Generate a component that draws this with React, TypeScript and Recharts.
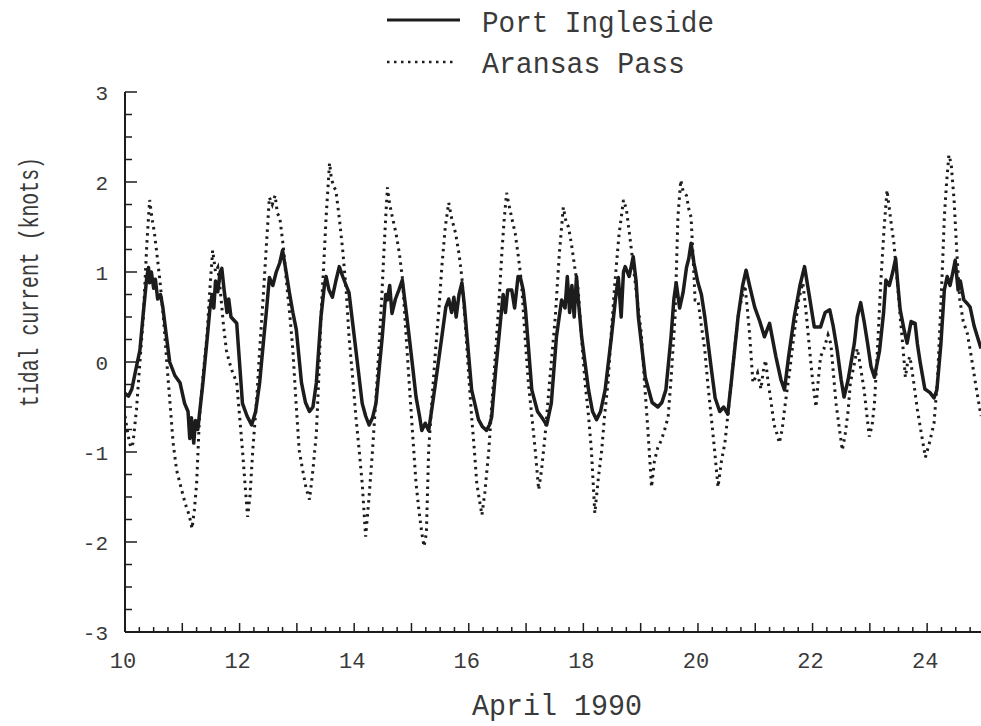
import React from "react";
import { LineChart, Line, XAxis, YAxis } from "recharts";

// [day of April 1990, tidal current in knots]
const portIngleside: [number, number][] = [
  [10.0, -0.35], [10.06, -0.38], [10.12, -0.3], [10.2, -0.05], [10.26, 0.13], [10.32, 0.55],
  [10.38, 0.94], [10.41, 1.05], [10.43, 0.88], [10.46, 1.0], [10.5, 0.82], [10.53, 0.92],
  [10.57, 0.7], [10.62, 0.75], [10.66, 0.61], [10.72, 0.3], [10.78, 0.0], [10.87, -0.15],
  [10.96, -0.23], [11.04, -0.46], [11.1, -0.55], [11.13, -0.85], [11.16, -0.62], [11.2, -0.9],
  [11.23, -0.65], [11.27, -0.75], [11.36, -0.23], [11.44, 0.3], [11.48, 0.58], [11.52, 0.75],
  [11.55, 0.6], [11.58, 0.9], [11.62, 0.78], [11.66, 1.0], [11.69, 1.04], [11.73, 0.8],
  [11.78, 0.55], [11.81, 0.7], [11.85, 0.5], [11.95, 0.43], [12.05, -0.46], [12.13, -0.6],
  [12.21, -0.7], [12.28, -0.55], [12.35, -0.23], [12.42, 0.25], [12.47, 0.58], [12.52, 0.94],
  [12.58, 0.85], [12.64, 1.0], [12.7, 1.1], [12.75, 1.24], [12.8, 1.05], [12.87, 0.77],
  [12.93, 0.55], [12.99, 0.36], [13.08, -0.23], [13.15, -0.45], [13.22, -0.55], [13.28, -0.5],
  [13.34, -0.23], [13.42, 0.5], [13.48, 0.85], [13.51, 0.95], [13.56, 0.8], [13.62, 0.72],
  [13.68, 0.9], [13.74, 1.06], [13.8, 0.95], [13.86, 0.85], [13.91, 0.77], [13.97, 0.45],
  [14.03, 0.13], [14.14, -0.46], [14.2, -0.6], [14.26, -0.7], [14.32, -0.62], [14.38, -0.46],
  [14.44, -0.05], [14.49, 0.28], [14.55, 0.75], [14.58, 0.69], [14.62, 0.85], [14.66, 0.54],
  [14.72, 0.7], [14.78, 0.8], [14.84, 0.91], [14.9, 0.6], [14.96, 0.28], [15.02, -0.05],
  [15.08, -0.39], [15.14, -0.6], [15.18, -0.76], [15.24, -0.68], [15.3, -0.76], [15.36, -0.5],
  [15.42, -0.23], [15.48, 0.05], [15.53, 0.28], [15.6, 0.61], [15.65, 0.7], [15.7, 0.55],
  [15.74, 0.72], [15.78, 0.5], [15.83, 0.75], [15.88, 0.88], [15.92, 0.65], [15.97, 0.28],
  [16.05, -0.31], [16.17, -0.64], [16.24, -0.72], [16.31, -0.76], [16.36, -0.7], [16.4, -0.61],
  [16.47, -0.09], [16.56, 0.5], [16.6, 0.75], [16.64, 0.55], [16.68, 0.8], [16.75, 0.8],
  [16.8, 0.6], [16.86, 0.95], [16.9, 0.94], [16.95, 0.8], [16.99, 0.58], [17.1, -0.31],
  [17.2, -0.55], [17.3, -0.64], [17.36, -0.7], [17.44, -0.46], [17.53, 0.28], [17.62, 0.69],
  [17.68, 0.6], [17.72, 0.95], [17.76, 0.55], [17.8, 0.85], [17.84, 0.5], [17.88, 0.95],
  [17.91, 0.7], [17.97, 0.28], [18.09, -0.31], [18.16, -0.55], [18.23, -0.64], [18.3, -0.55],
  [18.38, -0.31], [18.49, 0.28], [18.56, 0.7], [18.61, 0.94], [18.66, 0.5], [18.7, 1.0],
  [18.73, 1.06], [18.8, 0.95], [18.87, 1.17], [18.92, 0.9], [18.96, 0.5], [19.08, -0.17],
  [19.2, -0.45], [19.3, -0.5], [19.37, -0.45], [19.44, -0.31], [19.53, 0.28], [19.58, 0.7],
  [19.62, 0.88], [19.68, 0.6], [19.74, 0.77], [19.8, 1.05], [19.84, 1.15], [19.88, 1.32],
  [19.93, 1.1], [20.0, 0.88], [20.06, 0.75], [20.12, 0.5], [20.23, -0.06], [20.3, -0.4],
  [20.38, -0.55], [20.45, -0.5], [20.52, -0.58], [20.58, -0.23], [20.7, 0.5], [20.78, 0.85],
  [20.84, 1.02], [20.9, 0.85], [20.99, 0.61], [21.08, 0.45], [21.16, 0.28], [21.25, 0.43],
  [21.36, 0.06], [21.45, -0.2], [21.51, -0.31], [21.58, 0.05], [21.68, 0.5], [21.78, 0.85],
  [21.86, 1.06], [21.94, 0.75], [22.03, 0.39], [22.14, 0.39], [22.22, 0.55], [22.3, 0.58],
  [22.36, 0.4], [22.43, 0.13], [22.5, -0.2], [22.55, -0.39], [22.62, -0.2], [22.73, 0.21],
  [22.78, 0.5], [22.84, 0.66], [22.9, 0.45], [22.96, 0.21], [23.02, -0.05], [23.08, -0.17],
  [23.17, 0.13], [23.24, 0.55], [23.28, 0.91], [23.34, 0.85], [23.4, 1.0], [23.45, 1.15],
  [23.49, 0.85], [23.53, 0.58], [23.6, 0.35], [23.65, 0.21], [23.72, 0.45], [23.79, 0.43],
  [23.83, 0.2], [23.88, -0.01], [23.96, -0.3], [24.05, -0.34], [24.12, -0.4], [24.17, -0.31],
  [24.24, 0.2], [24.3, 0.8], [24.35, 0.95], [24.4, 0.85], [24.45, 1.0], [24.49, 1.13],
  [24.54, 0.8], [24.58, 0.9], [24.64, 0.69], [24.7, 0.65], [24.75, 0.61], [24.82, 0.4],
  [24.94, 0.15],
];

const aransasPass: [number, number][] = [
  [10.0, -0.6], [10.05, -0.8], [10.1, -0.95], [10.14, -0.9], [10.2, -0.53], [10.26, 0.0],
  [10.32, 0.5], [10.38, 1.3], [10.43, 1.8], [10.47, 1.6], [10.51, 1.45], [10.55, 1.24],
  [10.61, 0.9], [10.67, 0.5], [10.75, -0.17], [10.84, -0.9], [10.9, -1.2], [10.96, -1.35],
  [11.02, -1.5], [11.07, -1.61], [11.12, -1.7], [11.17, -1.85], [11.21, -1.65], [11.25, -1.35],
  [11.3, -0.61], [11.37, -0.1], [11.43, 0.28], [11.48, 0.8], [11.53, 1.24], [11.58, 1.0],
  [11.62, 1.05], [11.67, 0.75], [11.72, 0.4], [11.77, 0.13], [11.82, 0.0], [11.87, -0.1],
  [11.95, -0.23], [12.0, -0.6], [12.05, -0.98], [12.1, -1.4], [12.14, -1.72], [12.18, -1.5],
  [12.23, -0.98], [12.3, -0.4], [12.35, 0.13], [12.42, 0.8], [12.47, 1.32], [12.52, 1.83],
  [12.57, 1.75], [12.62, 1.85], [12.66, 1.65], [12.7, 1.61], [12.76, 1.3], [12.82, 0.88],
  [12.88, 0.5], [12.93, 0.13], [12.98, -0.4], [13.04, -0.98], [13.1, -1.2], [13.16, -1.4],
  [13.22, -1.53], [13.28, -1.2], [13.34, -0.79], [13.38, -0.2], [13.42, 0.5], [13.47, 1.1],
  [13.51, 1.61], [13.57, 2.21], [13.6, 2.05], [13.64, 1.95], [13.68, 1.91], [13.74, 1.6],
  [13.8, 1.24], [13.86, 0.8], [13.91, 0.28], [13.97, -0.15], [14.03, -0.61], [14.09, -1.0],
  [14.14, -1.35], [14.2, -1.94], [14.26, -1.5], [14.32, -0.98], [14.38, -0.4], [14.43, 0.13],
  [14.48, 0.7], [14.52, 1.24], [14.55, 1.6], [14.58, 1.94], [14.62, 1.75], [14.67, 1.6],
  [14.73, 1.43], [14.79, 1.2], [14.84, 0.94], [14.9, 0.35], [14.96, -0.23], [15.02, -0.8],
  [15.08, -1.35], [15.13, -1.65], [15.18, -1.9], [15.22, -2.05], [15.26, -1.9], [15.3, -0.98],
  [15.36, -0.4], [15.42, 0.13], [15.48, 0.6], [15.53, 1.06], [15.59, 1.5], [15.65, 1.77],
  [15.7, 1.6], [15.77, 1.43], [15.83, 1.2], [15.88, 0.94], [15.93, 0.5], [15.97, 0.13],
  [16.01, -0.25], [16.05, -0.61], [16.1, -1.0], [16.14, -1.35], [16.19, -1.55], [16.23, -1.7],
  [16.28, -1.45], [16.35, -0.98], [16.41, -0.4], [16.47, 0.13], [16.53, 0.7], [16.58, 1.24],
  [16.62, 1.6], [16.66, 1.88], [16.7, 1.75], [16.75, 1.6], [16.81, 1.43], [16.87, 1.15],
  [16.92, 0.88], [16.98, 0.3], [17.04, -0.23], [17.1, -0.6], [17.16, -0.98], [17.22, -1.42],
  [17.27, -1.2], [17.33, -0.83], [17.42, -0.15], [17.51, 0.5], [17.58, 1.2], [17.65, 1.72],
  [17.7, 1.55], [17.74, 1.5], [17.79, 1.32], [17.85, 1.05], [17.91, 0.8], [17.97, 0.25],
  [18.03, -0.23], [18.09, -0.6], [18.14, -0.98], [18.2, -1.68], [18.26, -1.3], [18.32, -0.98],
  [18.37, -0.6], [18.43, -0.23], [18.49, 0.35], [18.55, 0.88], [18.62, 1.4], [18.7, 1.8],
  [18.75, 1.7], [18.8, 1.45], [18.84, 1.24], [18.92, 0.8], [19.01, 0.32], [19.07, -0.25],
  [19.13, -0.79], [19.19, -1.39], [19.24, -1.1], [19.3, -0.95], [19.36, -0.87], [19.42, -0.75],
  [19.48, -0.61], [19.54, -0.1], [19.6, 0.5], [19.65, 1.61], [19.7, 2.02], [19.74, 1.9],
  [19.8, 1.85], [19.84, 1.7], [19.88, 1.61], [19.92, 1.1], [19.95, 0.69], [20.0, 0.69],
  [20.06, 0.4], [20.12, 0.13], [20.17, -0.23], [20.23, -0.6], [20.29, -0.98], [20.35, -1.39],
  [20.41, -1.1], [20.47, -0.9], [20.52, -0.6], [20.58, -0.23], [20.64, 0.15], [20.7, 0.5],
  [20.76, 0.7], [20.82, 0.85], [20.86, 0.6], [20.9, 0.32], [20.96, -0.23], [21.04, -0.12],
  [21.1, -0.3], [21.14, -0.1], [21.18, 0.02], [21.22, -0.2], [21.27, -0.42], [21.33, -0.7],
  [21.38, -0.8], [21.42, -0.9], [21.47, -0.75], [21.51, -0.53], [21.6, -0.1], [21.68, 0.32],
  [21.76, 0.7], [21.83, 0.88], [21.88, 0.6], [21.95, 0.13], [22.0, -0.2], [22.06, -0.5],
  [22.1, -0.2], [22.14, 0.06], [22.2, 0.15], [22.27, 0.3], [22.32, 0.2], [22.36, -0.1],
  [22.41, -0.46], [22.47, -0.75], [22.52, -0.98], [22.57, -0.8], [22.62, -0.55], [22.66, -0.23],
  [22.72, -0.05], [22.78, 0.15], [22.81, 0.05], [22.86, -0.15], [22.9, -0.31], [22.95, -0.6],
  [22.99, -0.83], [23.04, -0.7], [23.08, -0.46], [23.13, 0.1], [23.19, 0.88], [23.25, 1.5],
  [23.3, 1.91], [23.36, 1.6], [23.42, 1.32], [23.48, 0.9], [23.53, 0.5], [23.58, 0.15],
  [23.62, -0.17], [23.66, 0.0], [23.7, 0.06], [23.76, -0.2], [23.83, -0.53], [23.9, -0.8],
  [23.97, -1.06], [24.04, -0.9], [24.12, -0.68], [24.18, -0.2], [24.23, 0.5], [24.27, 1.1],
  [24.3, 1.61], [24.34, 2.0], [24.38, 2.3], [24.42, 2.2], [24.47, 1.8], [24.52, 1.2],
  [24.57, 0.69], [24.63, 0.45], [24.7, 0.32], [24.76, 0.1], [24.8, -0.06], [24.86, -0.3],
  [24.94, -0.6],
];

const xLabelDays = [10, 12, 14, 16, 18, 20, 22, 24];
const yLabelValues = [-3, -2, -1, 0, 1, 2, 3];
const seriesNames = ["Port Ingleside", "Aransas Pass"];

const INK = "#1c1c1c";
const TEXT = "#3a3a3a";
const FONT = "'Liberation Mono', 'DejaVu Sans Mono', monospace";

// quarter-day and quarter-knot minor ticks
const xTicks = Array.from({ length: 60 }, (_, i) => 10 + i * 0.25);
const yTicks = Array.from({ length: 25 }, (_, i) => -3 + i * 0.25);

const toRows = (pts: [number, number][]) => pts.map(([day, knots]) => ({ day, knots }));

function XTick({ x, y, payload }: any) {
  const v = payload.value;
  const major = Number.isInteger(v);
  return (
    <g>
      <line x1={x} x2={x} y1={y} y2={y - (major ? 9 : 5)} stroke={INK} strokeWidth={1.5} />
      {xLabelDays.includes(v) && (
        <text x={x - 2} y={y + 36} textAnchor="middle" fontSize={22} fontFamily={FONT} fill={TEXT}>
          {v}
        </text>
      )}
    </g>
  );
}

function YTick({ x, y, payload }: any) {
  const v = payload.value;
  const major = Number.isInteger(v);
  return (
    <g>
      <line x1={x} x2={x + (major ? 12 : 7)} y1={y} y2={y} stroke={INK} strokeWidth={1.5} />
      {yLabelValues.includes(v) && (
        <text x={x - 17} y={y} dy="0.36em" textAnchor="end" fontSize={21} fontFamily={FONT} fill={TEXT}>
          {v}
        </text>
      )}
    </g>
  );
}

function Legend() {
  return (
    <svg width={981} height={85} style={{ position: "absolute", left: 0, top: 0 }}>
      <line x1={387} x2={460} y1={20} y2={20} stroke={INK} strokeWidth={3} />
      <text x={482} y={32} fontSize={29} fontFamily={FONT} fill={TEXT} textLength={232} lengthAdjust="spacingAndGlyphs">
        {seriesNames[0]}
      </text>
      <line x1={387} x2={454} y1={62} y2={62} stroke={INK} strokeWidth={2.5} strokeDasharray="2.5 4.5" />
      <text x={482} y={73} fontSize={29} fontFamily={FONT} fill={TEXT} textLength={203} lengthAdjust="spacingAndGlyphs">
        {seriesNames[1]}
      </text>
    </svg>
  );
}

export default function App() {
  return (
    <div style={{ position: "absolute", left: 0, top: 0, width: 981, height: 726, background: "#fff" }}>
      <LineChart width={981} height={726} margin={{ top: 92, right: 0, bottom: 0, left: 0 }}>
        <XAxis
          dataKey="day"
          type="number"
          domain={[10, 24.94]}
          allowDataOverflow
          ticks={xTicks}
          interval={0}
          tickSize={0}
          tickMargin={0}
          tickLine={false}
          tick={XTick}
          axisLine={{ stroke: INK, strokeWidth: 2 }}
          height={94}
          label={{
            content: () => (
              <text x={557} y={715} textAnchor="middle" fontSize={30} fontFamily={FONT} fill={TEXT} textLength={170} lengthAdjust="spacingAndGlyphs">
                April 1990
              </text>
            ),
          }}
        />
        <YAxis
          type="number"
          domain={[-3, 3]}
          ticks={yTicks}
          interval={0}
          tickSize={0}
          tickMargin={0}
          tickLine={false}
          tick={YTick}
          axisLine={{ stroke: INK, strokeWidth: 2 }}
          width={125}
          label={{
            content: () => (
              <text
                x={29}
                y={282}
                transform="rotate(-90 29 282)"
                dy="0.35em"
                textAnchor="middle"
                fontSize={27}
                fontFamily={FONT}
                fill={TEXT}
                textLength={250}
                lengthAdjust="spacingAndGlyphs"
              >
                tidal current (knots)
              </text>
            ),
          }}
        />
        <Line
          data={toRows(aransasPass)}
          dataKey="knots"
          name={seriesNames[1]}
          type="linear"
          dot={false}
          stroke={INK}
          strokeWidth={3}
          strokeDasharray="2.5 4.5"
          isAnimationActive={false}
        />
        <Line
          data={toRows(portIngleside)}
          dataKey="knots"
          name={seriesNames[0]}
          type="linear"
          dot={false}
          stroke={INK}
          strokeWidth={3.5}
          strokeLinejoin="round"
          isAnimationActive={false}
        />
      </LineChart>
      <Legend />
    </div>
  );
}
